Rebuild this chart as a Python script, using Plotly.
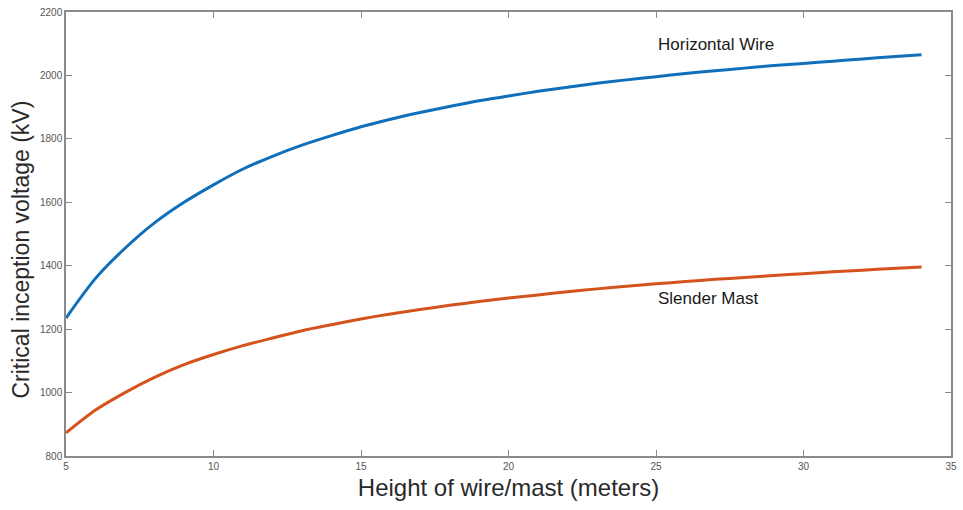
import plotly.graph_objects as go

# Height of wire / mast (m)
heights = list(range(5, 35))

# Critical inception voltage (kV)
horizontal_wire = [1235, 1360, 1455, 1535, 1600, 1655, 1705, 1745, 1780, 1810,
                   1838, 1862, 1883, 1902, 1920, 1935, 1950, 1963, 1975, 1986,
                   1996, 2006, 2015, 2023, 2031, 2038, 2045, 2052, 2059, 2065]
slender_mast = [873, 945, 1000, 1048, 1088, 1120, 1148, 1172, 1195, 1214,
                1232, 1248, 1262, 1275, 1287, 1298, 1308, 1318, 1327, 1335,
                1343, 1350, 1357, 1363, 1369, 1375, 1381, 1386, 1391, 1396]

x_ticks = [5, 10, 15, 20, 25, 30, 35]
y_ticks = [800, 1000, 1200, 1400, 1600, 1800, 2000, 2200]

FONT = "Liberation Sans, Arial, sans-serif"

fig = go.Figure()
fig.add_trace(go.Scatter(x=heights, y=horizontal_wire, mode="lines",
                         line=dict(color="#0F6FBA", width=3, shape="spline", smoothing=0.8),
                         name="Horizontal Wire", showlegend=False))
fig.add_trace(go.Scatter(x=heights, y=slender_mast, mode="lines",
                         line=dict(color="#D4531C", width=3, shape="spline", smoothing=0.8),
                         name="Slender Mast", showlegend=False))

fig.add_annotation(x=25, y=2096, text="Horizontal Wire", showarrow=False,
                   xanchor="left", yanchor="middle",
                   font=dict(family=FONT, size=17, color="#1a1a1a"))
fig.add_annotation(x=25, y=1297, text="Slender Mast", showarrow=False,
                   xanchor="left", yanchor="middle",
                   font=dict(family=FONT, size=17, color="#1a1a1a"))

# Vertical axis title, placed slightly below the axis midpoint
fig.add_annotation(xref="paper", yref="paper", x=0, y=0.465,
                   xanchor="center", yanchor="middle", xshift=-45,
                   text="Critical inception voltage (kV)", textangle=-90,
                   showarrow=False,
                   font=dict(family=FONT, size=23, color="#2a2a2a"))

axis_common = dict(
    showgrid=False, zeroline=False,
    showline=True, linecolor="#8a8a8a", linewidth=1.5, mirror="allticks",
    ticks="inside", ticklen=6, tickcolor="#8a8a8a", tickwidth=1,
    tickfont=dict(family=FONT, size=10, color="#555555"),
)

fig.update_xaxes(range=[5, 35], tickvals=x_ticks,
                 title=dict(text="Height of wire/mast (meters)",
                            font=dict(family=FONT, size=24, color="#2a2a2a"),
                            standoff=8),
                 **axis_common)
fig.update_yaxes(range=[800, 2200], tickvals=y_ticks, **axis_common)

fig.update_layout(
    width=963, height=510,
    margin=dict(l=66, r=6, t=11, b=54),
    plot_bgcolor="white", paper_bgcolor="white",
)

fig.write_html("out.html")
